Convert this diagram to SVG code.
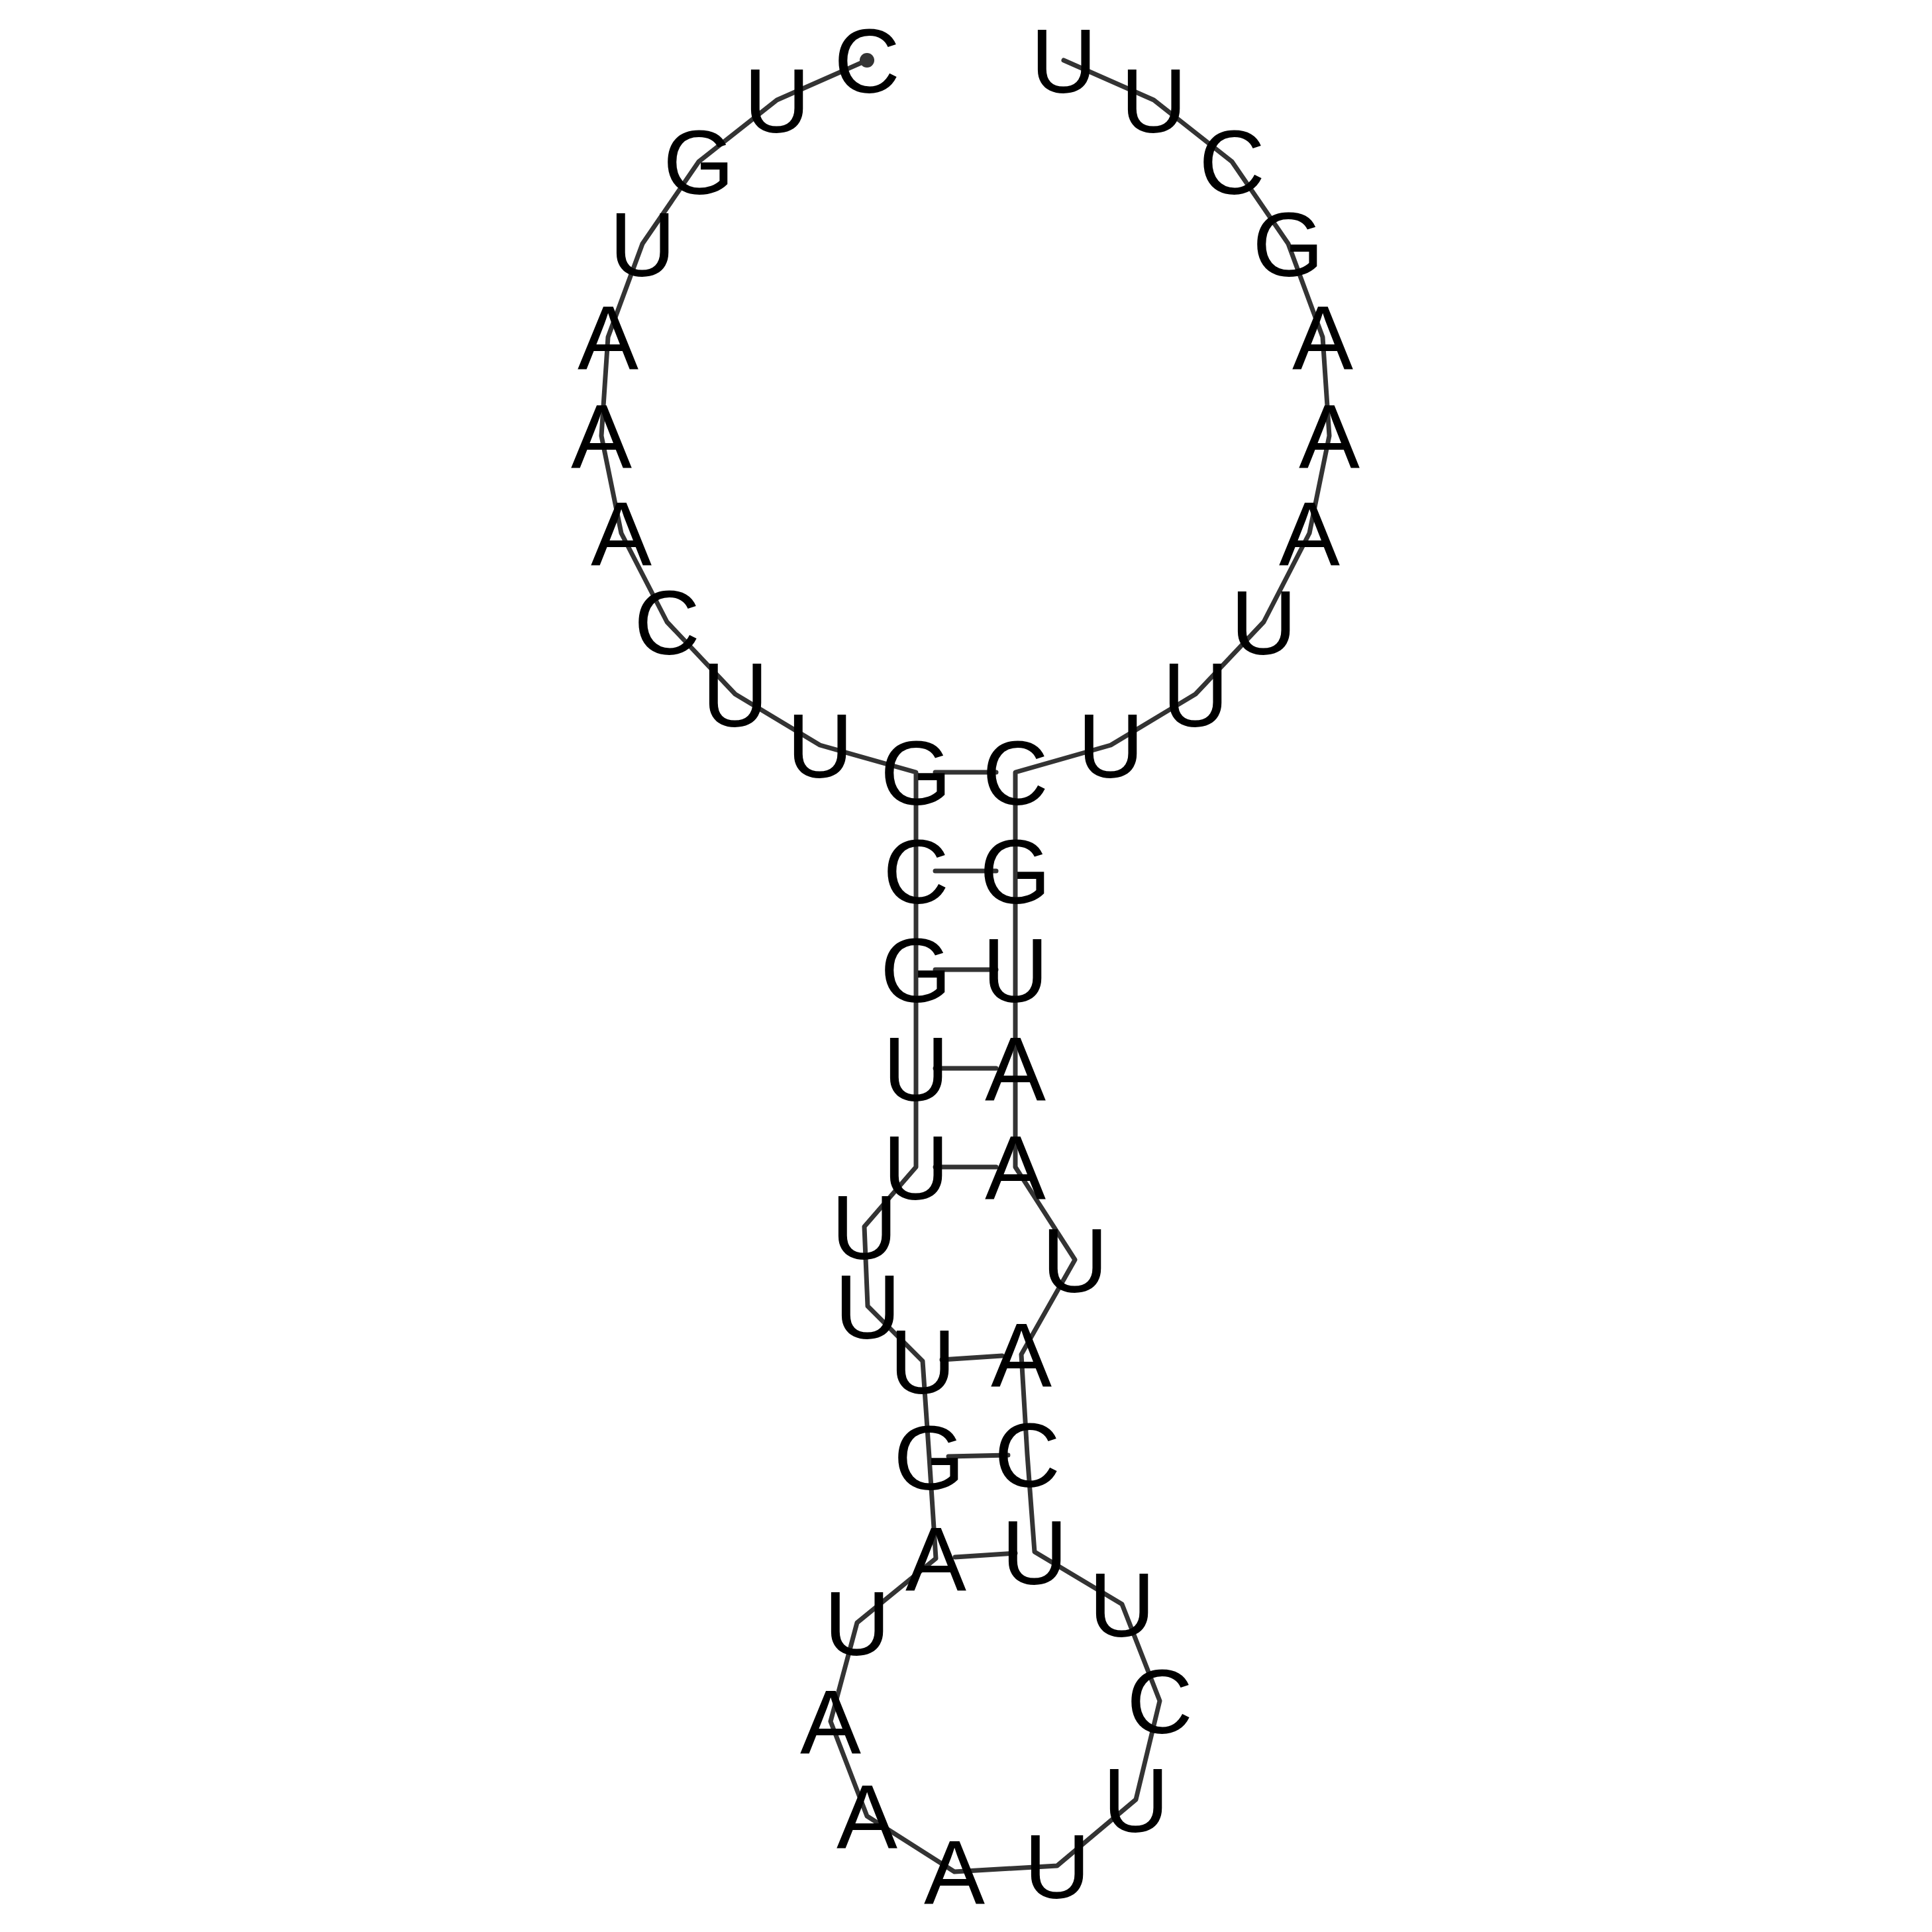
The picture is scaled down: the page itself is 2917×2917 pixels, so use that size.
<svg xmlns="http://www.w3.org/2000/svg" width="2917" height="2917" viewBox="0 0 2917 2917">
<style>
.bb{fill:none;stroke:#333;stroke-width:7;stroke-linejoin:round;stroke-linecap:round}
.bp{stroke:#333;stroke-width:7;stroke-linecap:round}
text{font-family:"Liberation Sans",Arial,Helvetica,sans-serif;font-size:138px;text-anchor:middle;fill:#000}
</style>
<rect width="2917" height="2917" fill="#fff"/>
<g id="connectors">
<polyline class="bb" points="1309,91 1173,151 1055,244 970,368 918,509 908,658 938,805 1007,939 1110,1048 1238,1125 1383,1166 1383,1315 1383,1464 1383,1613 1383,1762 1305,1852 1310,1972 1393,2055 1403,2200 1413,2353 1294,2450 1254,2599 1309,2742 1441,2826 1596,2817 1715,2717 1751,2568 1694,2422 1562,2343 1551,2196 1542,2045 1623,1902 1533,1762 1533,1613 1533,1464 1533,1315 1533,1166 1677,1125 1805,1048 1908,939 1977,805 2007,658 1997,509 1945,368 1860,244 1742,151 1606,91"/>
<line class="bp" x1="1412" y1="1166" x2="1504" y2="1166"/>
<line class="bp" x1="1412" y1="1315" x2="1504" y2="1315"/>
<line class="bp" x1="1412" y1="1464" x2="1504" y2="1464"/>
<line class="bp" x1="1412" y1="1613" x2="1504" y2="1613"/>
<line class="bp" x1="1412" y1="1762" x2="1504" y2="1762"/>
<line class="bp" x1="1422" y1="2053" x2="1513" y2="2047"/>
<line class="bp" x1="1432" y1="2199" x2="1522" y2="2197"/>
<line class="bp" x1="1442" y1="2351" x2="1533" y2="2345"/>
<circle cx="1309" cy="91" r="11" fill="#333"/>
</g>
<g id="n1"><text x="1309" y="140">C</text></g>
<g id="n2"><text x="1173" y="200">U</text></g>
<g id="n3"><text x="1055" y="293">G</text></g>
<g id="n4"><text x="970" y="417">U</text></g>
<g id="n5"><text x="918" y="558">A</text></g>
<g id="n6"><text x="908" y="707">A</text></g>
<g id="n7"><text x="938" y="854">A</text></g>
<g id="n8"><text x="1007" y="988">C</text></g>
<g id="n9"><text x="1110" y="1097">U</text></g>
<g id="n10"><text x="1238" y="1174">U</text></g>
<g id="n11"><text x="1383" y="1215">G</text></g>
<g id="n12"><text x="1383" y="1364">C</text></g>
<g id="n13"><text x="1383" y="1513">G</text></g>
<g id="n14"><text x="1383" y="1662">U</text></g>
<g id="n15"><text x="1383" y="1811">U</text></g>
<g id="n16"><text x="1305" y="1901">U</text></g>
<g id="n17"><text x="1310" y="2021">U</text></g>
<g id="n18"><text x="1393" y="2104">U</text></g>
<g id="n19"><text x="1403" y="2249">G</text></g>
<g id="n20"><text x="1413" y="2402">A</text></g>
<g id="n21"><text x="1294" y="2499">U</text></g>
<g id="n22"><text x="1254" y="2648">A</text></g>
<g id="n23"><text x="1309" y="2791">A</text></g>
<g id="n24"><text x="1441" y="2875">A</text></g>
<g id="n25"><text x="1596" y="2866">U</text></g>
<g id="n26"><text x="1715" y="2766">U</text></g>
<g id="n27"><text x="1751" y="2617">C</text></g>
<g id="n28"><text x="1694" y="2471">U</text></g>
<g id="n29"><text x="1562" y="2392">U</text></g>
<g id="n30"><text x="1551" y="2245">C</text></g>
<g id="n31"><text x="1542" y="2094">A</text></g>
<g id="n32"><text x="1623" y="1951">U</text></g>
<g id="n33"><text x="1533" y="1811">A</text></g>
<g id="n34"><text x="1533" y="1662">A</text></g>
<g id="n35"><text x="1533" y="1513">U</text></g>
<g id="n36"><text x="1533" y="1364">G</text></g>
<g id="n37"><text x="1533" y="1215">C</text></g>
<g id="n38"><text x="1677" y="1174">U</text></g>
<g id="n39"><text x="1805" y="1097">U</text></g>
<g id="n40"><text x="1908" y="988">U</text></g>
<g id="n41"><text x="1977" y="854">A</text></g>
<g id="n42"><text x="2007" y="707">A</text></g>
<g id="n43"><text x="1997" y="558">A</text></g>
<g id="n44"><text x="1945" y="417">G</text></g>
<g id="n45"><text x="1860" y="293">C</text></g>
<g id="n46"><text x="1742" y="200">U</text></g>
<g id="n47"><text x="1606" y="140">U</text></g>
</svg>
